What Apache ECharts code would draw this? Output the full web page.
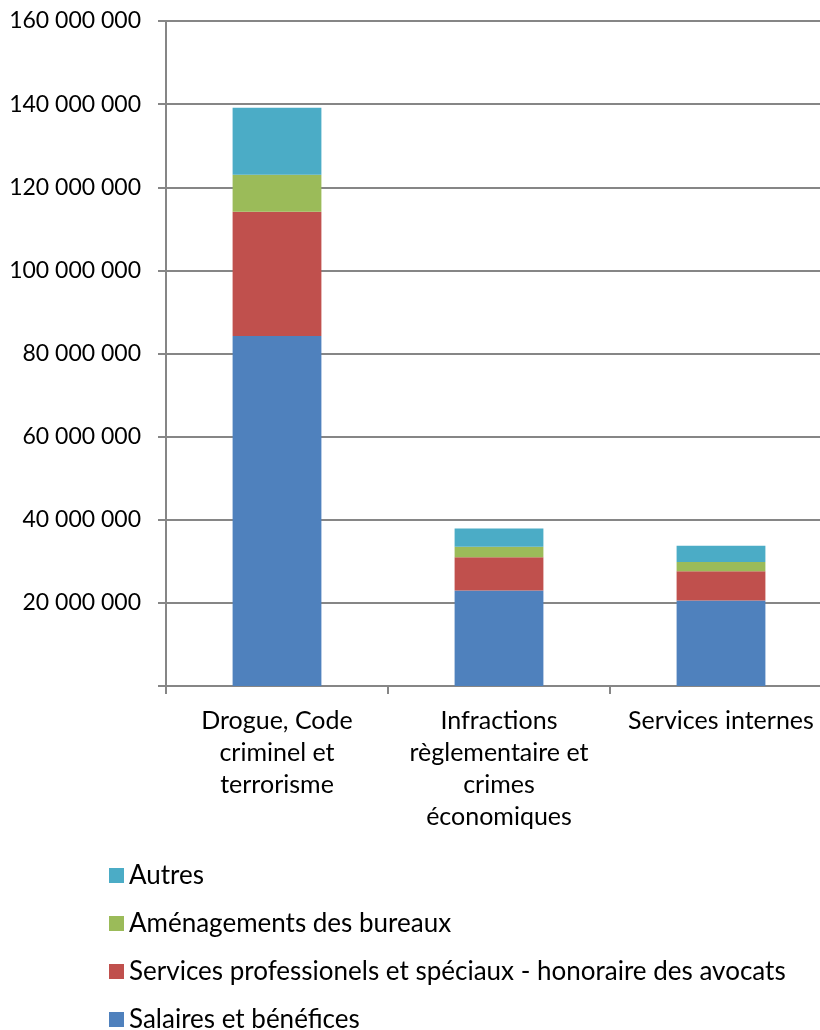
<!DOCTYPE html>
<html>
<head>
<meta charset="utf-8">
<script src="https://cdn.jsdelivr.net/npm/echarts@6/dist/echarts.min.js"></script>
<style>
  html, body { margin: 0; padding: 0; background: #fff; overflow: hidden; }
  #main { width: 832px; height: 1060px; }
</style>
</head>
<body>
<div id="main"></div>
<script>
const categories = ['Drogue, Code\ncriminel et\nterrorisme', 'Infractions\nrèglementaire et\ncrimes\néconomiques', 'Services internes']
const salaires = [84200000, 22950000, 20550000]
const services = [29900000, 8000000, 7050000]
const amenagements = [8900000, 2550000, 2250000]
const autres = [16100000, 4400000, 3900000]
const yTicks = [0, 20000000, 40000000, 60000000, 80000000, 100000000, 120000000, 140000000, 160000000]

// the plot runs past the right edge of the picture, as in the reference
const font = 'Lato, "Noto Sans", sans-serif'
const chart = echarts.init(document.getElementById('main'))
const option = {
  animation: false,
  textStyle: { fontFamily: font },
  grid: { left: 166, top: 21, right: 0, bottom: 374 },
  legend: {
    orient: 'vertical',
    left: 104,
    top: 857,
    itemWidth: 15,
    itemHeight: 15,
    itemGap: 21,
    icon: 'rect',
    textStyle: { fontSize: 26, lineHeight: 27, color: '#000', fontFamily: font },
    data: ['Autres', 'Aménagements des bureaux', 'Services professionels et spéciaux - honoraire des avocats', 'Salaires et bénéfices']
  },
  xAxis: {
    type: 'category',
    data: categories,
    axisLine: { lineStyle: { color: '#868686', width: 2 } },
    axisTick: { show: true, length: 8, lineStyle: { color: '#868686', width: 2 } },
    axisLabel: { interval: 0, fontSize: 25, color: '#000', lineHeight: 32, margin: 19, fontFamily: font }
  },
  yAxis: {
    type: 'value',
    min: yTicks[0],
    max: yTicks[yTicks.length - 1],
    interval: 20000000,
    axisLine: { show: true, lineStyle: { color: '#868686', width: 2 } },
    axisTick: { show: true, length: 8, lineStyle: { color: '#868686', width: 2 } },
    splitLine: { lineStyle: { color: '#868686', width: 2 } },
    axisLabel: {
      fontSize: 23, color: '#000', margin: 25, fontFamily: font,
      formatter: v => v === 0 ? '' : String(v).replace(/\B(?=(\d{3})+(?!\d))/g, ' ')
    }
  },
  series: [
    { name: 'Salaires et bénéfices', type: 'bar', stack: 'total', barWidth: '40%', data: salaires, itemStyle: { color: '#4F81BD' } },
    { name: 'Services professionels et spéciaux - honoraire des avocats', type: 'bar', stack: 'total', data: services, itemStyle: { color: '#C0504D' } },
    { name: 'Aménagements des bureaux', type: 'bar', stack: 'total', data: amenagements, itemStyle: { color: '#9BBB59' } },
    { name: 'Autres', type: 'bar', stack: 'total', data: autres, itemStyle: { color: '#4BACC6' } }
  ]
}
chart.setOption(option)
</script>
</body>
</html>
